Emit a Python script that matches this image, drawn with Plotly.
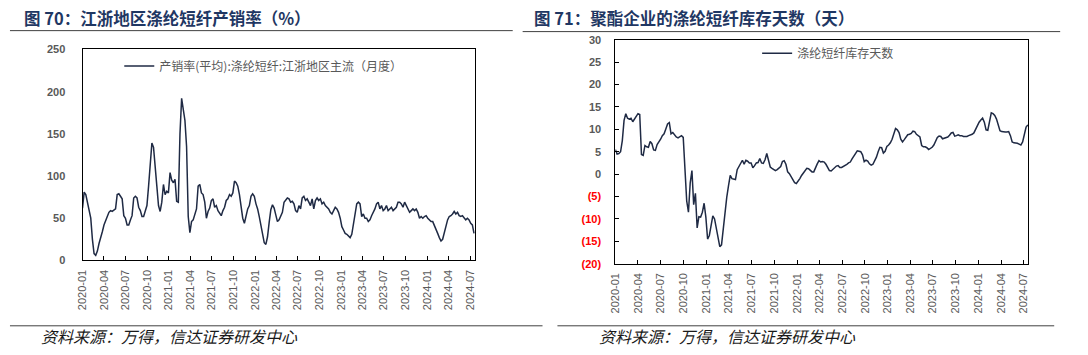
import pandas as pd
import plotly.graph_objects as go

# ---------------- data ----------------
start_date = "2020-01-01"

# 产销率(平均):涤纶短纤:江浙地区主流（月度）, weekly readings (%)
sales_ratio = [
    62, 81, 78, 69, 59, 50, 25, 8, 6, 11, 20, 29, 34, 42, 46, 52, 57, 59, 58, 59,
    61, 78, 79, 76, 73, 53, 50, 42, 42, 48, 53, 74, 76, 74, 63, 59, 52, 52, 59, 65,
    88, 115, 139, 134, 115, 88, 65, 58, 69, 90, 78, 82, 80, 104, 95, 92, 96, 70, 69, 150,
    192, 176, 166, 135, 52, 33, 46, 48, 55, 61, 88, 90, 80, 78, 69, 50, 58, 62, 71, 73,
    63, 65, 59, 55, 53, 59, 63, 71, 73, 78, 76, 80, 94, 92, 88, 78, 65, 50, 44, 53,
    61, 65, 76, 79, 76, 67, 61, 52, 42, 31, 21, 19, 28, 45, 60, 66, 62, 54, 46, 48,
    53, 57, 69, 71, 74, 73, 69, 70, 67, 59, 57, 65, 61, 74, 76, 71, 73, 69, 65, 73,
    61, 71, 74, 71, 73, 67, 69, 65, 63, 61, 57, 55, 59, 63, 61, 57, 50, 40, 36, 32,
    31, 29, 27, 31, 42, 57, 67, 69, 67, 52, 55, 50, 50, 46, 48, 53, 57, 61, 67, 69,
    61, 65, 59, 61, 65, 59, 61, 63, 59, 61, 63, 69, 69, 67, 63, 69, 65, 59, 57, 59,
    61, 59, 61, 57, 50, 52, 50, 52, 53, 50, 48, 46, 46, 42, 38, 32, 27, 23, 25, 32,
    42, 48, 52, 53, 55, 58, 55, 57, 53, 52, 53, 50, 48, 50, 48, 44, 42, 32,
]

# 涤纶短纤库存天数, weekly readings (天)
inventory_days = [
    5.5, 4.5, 4.6, 5.0, 7.5, 12.0, 13.5, 12.5, 12.3, 12.5, 11.7, 12.3, 13.0, 13.5, 13.3, 4.4, 4.2, 6.4, 6.1, 6.0,
    7.3, 6.8, 5.4, 5.3, 6.6, 7.1, 7.8, 8.6, 9.0, 10.1, 11.2, 11.5, 9.0, 9.3, 8.7, 8.3, 8.1, 8.4, 8.6, 8.2,
    0.4, -6.0, -8.5, -2.0, 0.8, -6.8, -4.3, -12.0, -9.5, -9.6, -8.5, -6.5, -9.6, -14.5, -13.7, -11.0, -9.3, -10.0, -11.8, -14.0,
    -16.2, -15.8, -12.2, -7.6, -5.2, -2.6, -0.3, -1.0, -1.1, -1.2, 1.0, 1.8, 2.4, 3.1, 2.2, 3.1, 2.9, 2.5, 2.5, 1.4,
    1.9, 2.5, 2.6, 3.5, 2.5, 2.4, 3.2, 4.6, 3.1, 1.6, 1.3, 1.0, 0.8, 1.0, 1.3, 1.7, 2.8, 3.0, 2.2, 0.5,
    0.1, -0.6, -1.3, -1.9, -2.1, -1.6, -1.0, -0.3, 0.2, 0.7, 1.3, 1.2, 0.8, 0.5, 0.5, 1.5, 2.3, 3.0, 2.7, 2.8,
    2.7, 2.2, 1.4, 0.8, 0.7, 1.1, 1.4, 1.8, 1.9, 1.5, 1.5, 1.7, 2.0, 2.2, 2.5, 2.7, 3.4, 4.0, 4.5, 5.2,
    5.1, 5.0, 4.3, 2.8, 3.1, 2.9, 2.3, 2.0, 2.2, 3.0, 3.8, 5.0, 6.0, 5.9, 4.7, 5.1, 6.2, 6.5, 7.0, 7.8,
    9.0, 10.2, 9.9, 9.3, 7.8, 7.2, 7.7, 8.4, 8.8, 8.9, 9.1, 9.6, 9.5, 8.9, 8.6, 8.3, 6.4, 6.1, 6.1, 5.9,
    5.5, 5.7, 6.0, 6.5, 7.3, 8.2, 8.5, 8.4, 7.9, 8.0, 8.1, 8.3, 8.7, 9.2, 9.3, 8.5, 8.6, 8.8, 8.6, 8.6,
    8.4, 8.4, 8.4, 8.6, 8.7, 8.9, 9.2, 10.0, 10.9, 11.6, 12.1, 12.5, 11.6, 9.9, 9.8, 11.8, 13.7, 13.5, 13.1, 12.3,
    11.1, 9.7, 9.5, 9.4, 9.4, 9.4, 9.5, 8.6, 7.2, 7.0, 7.0, 6.9, 6.7, 6.5, 7.2, 9.2, 10.5, 11.0,
]

quarter_ticks = [
    "2020-01-01", "2020-04-01", "2020-07-01", "2020-10-01",
    "2021-01-01", "2021-04-01", "2021-07-01", "2021-10-01",
    "2022-01-01", "2022-04-01", "2022-07-01", "2022-10-01",
    "2023-01-01", "2023-04-01", "2023-07-01", "2023-10-01",
    "2024-01-01", "2024-04-01", "2024-07-01",
]

left_yticks = [0, 50, 100, 150, 200, 250]
right_yticks = [-20, -15, -10, -5, 0, 5, 10, 15, 20, 25, 30]

left_title = "图 70：江浙地区涤纶短纤产销率（%）"
right_title = "图 71：聚酯企业的涤纶短纤库存天数（天）"
left_name = "产销率(平均):涤纶短纤:江浙地区主流（月度）"
right_name = "涤纶短纤库存天数"
source_text = "资料来源：万得，信达证券研发中心"

# ---------------- figure ----------------
W, H = 1088, 355
LINE = "#1F2A44"
CJK = "Noto Sans CJK SC"
LAT = "Liberation Sans"

dates_left = pd.date_range(start_date, periods=len(sales_ratio), freq="7D")
dates_right = pd.date_range(start_date, periods=len(inventory_days), freq="7D")


def px_x(p):
    return p / W


def px_y(p):
    return 1 - p / H


def fmt_tick(v):
    if v < 0:
        return f"<span style='color:#FF0000'>({-v})</span>"
    return str(v)


fig = go.Figure()
fig.add_trace(go.Scatter(
    x=dates_left, y=sales_ratio, mode="lines", name=left_name,
    line=dict(color=LINE, width=1.5), xaxis="x", yaxis="y", legend="legend",
))
fig.add_trace(go.Scatter(
    x=dates_right, y=inventory_days, mode="lines", name=right_name,
    line=dict(color=LINE, width=1.5), xaxis="x2", yaxis="y2", legend="legend2",
))

xcommon = dict(
    type="date", tickvals=quarter_ticks, tickformat="%Y-%m", tickangle=-90,
    ticks="inside", ticklen=4, tickcolor="#000", showgrid=False, zeroline=False,
    showline=True, linecolor="#000", linewidth=1, mirror=True,
    tickfont=dict(family=LAT, size=11, color="#595959"),
    ticklabelstandoff=4,
)

fig.update_layout(
    width=W, height=H,
    margin=dict(l=0, r=0, t=0, b=0),
    paper_bgcolor="white", plot_bgcolor="white",
    xaxis=dict(xcommon, domain=[px_x(77), px_x(472)], anchor="y",
               range=["2020-01-01", "2024-07-21"]),
    yaxis=dict(domain=[px_y(263.3), px_y(45)], anchor="x", range=[0, 250],
               tickvals=left_yticks, ticks="", showgrid=False, zeroline=False,
               showline=True, linecolor="#000", linewidth=1, mirror=True,
               tickfont=dict(family=LAT, size=11, color="#595959", weight="bold"),
               ticklabelstandoff=14),
    xaxis2=dict(xcommon, domain=[px_x(613.3), px_x(1028.7)], anchor="y2",
                range=["2020-01-01", "2024-07-18"]),
    yaxis2=dict(domain=[px_y(266.7), px_y(35)], anchor="x2", range=[-20, 30],
                tickvals=right_yticks, ticktext=[fmt_tick(v) for v in right_yticks],
                ticks="inside", ticklen=4, tickcolor="#000",
                showgrid=False, zeroline=False,
                showline=True, linecolor="#000", linewidth=1, mirror=True,
                tickfont=dict(family=LAT, size=11, color="#595959", weight="bold"),
                ticklabelstandoff=11),
    legend=dict(x=px_x(114), y=px_y(62), xanchor="left", yanchor="middle",
                bgcolor="rgba(0,0,0,0)", font=dict(family=CJK, size=12, color="#595959")),
    legend2=dict(x=px_x(756), y=px_y(49), xanchor="left", yanchor="middle",
                 bgcolor="rgba(0,0,0,0)", font=dict(family=CJK, size=12, color="#595959")),
    showlegend=True,
)

# titles
fig.add_annotation(text=f"<b>{left_title}</b>", x=px_x(16), y=px_y(12), xref="paper", yref="paper",
                   xanchor="left", yanchor="middle", showarrow=False,
                   font=dict(family=CJK, size=16.5, color="#1F3763"))
fig.add_annotation(text=f"<b>{right_title}</b>", x=px_x(529), y=px_y(12), xref="paper", yref="paper",
                   xanchor="left", yanchor="middle", showarrow=False,
                   font=dict(family=CJK, size=16.5, color="#1F3763"))
# sources
for sx in (33, 595):
    fig.add_annotation(text=f"<i>{source_text}</i>", x=px_x(sx), y=px_y(342), xref="paper", yref="paper",
                       xanchor="left", yanchor="middle", showarrow=False,
                       font=dict(family=CJK, size=16, color="#1a1a1a"))

# rules
for x0, x1, yy in [(4, 510, 25.5), (520, 1061, 26.5), (4, 540, 331), (555, 1055, 331)]:
    fig.add_shape(type="line", xref="paper", yref="paper",
                  x0=px_x(x0), x1=px_x(x1), y0=px_y(yy), y1=px_y(yy),
                  line=dict(color="#404040", width=1))

fig.write_html("out.html", config={"displayModeBar": False},
               post_script="document.body.style.margin='0px';")
